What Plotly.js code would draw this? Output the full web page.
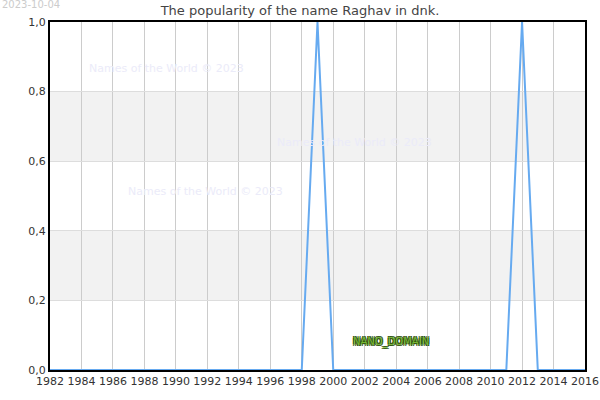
<!DOCTYPE html>
<html>
<head>
<meta charset="utf-8">
<script src="https://cdn.plot.ly/plotly-3.0.1.min.js"></script>
<style>
  body { margin: 0; }
  #chart { width: 600px; height: 400px; }
</style>
</head>
<body>
<div id="chart"></div>
<script>
// years and popularity values
const years = [];
for (let y = 1982; y <= 2016; y++) years.push(y);
const popularity = [
  0, 0, 0, 0, 0, 0, 0, 0, 0, 0,   // 1982-1991
  0, 0, 0, 0, 0, 0, 0, 1, 0, 0,   // 1992-2001
  0, 0, 0, 0, 0, 0, 0, 0, 0, 0,   // 2002-2011
  1, 0, 0, 0, 0                   // 2012-2016
];
const xTicks = [1982, 1984, 1986, 1988, 1990, 1992, 1994, 1996, 1998, 2000, 2002, 2004, 2006, 2008, 2010, 2012, 2014, 2016];
const yTicks = [0, 0.2, 0.4, 0.6, 0.8, 1.0];
const bands = [[0.2, 0.4], [0.6, 0.8]];

const trace = {
    x: years,
    y: popularity,
    mode: 'lines',
    type: 'scatter',
    line: { color: '#66aaf0', width: 2 },
    hoverinfo: 'skip'
};

const wm = { family: 'DejaVu Sans', size: 11, color: '#ebebf9' };
function mark(text, x, y, font) {
    return { text: text, xref: 'paper', yref: 'paper', x: x, y: y,
             xanchor: 'center', yanchor: 'middle', showarrow: false, font: font };
}

const layout = {
    width: 600,
    height: 400,
    separators: ',.',
    margin: { l: 50, r: 15, t: 22, b: 30 },
    paper_bgcolor: '#ffffff',
    plot_bgcolor: '#ffffff',
    font: { family: 'DejaVu Sans', size: 11, color: '#333333' },
    showlegend: false,
    title: {
        text: 'The popularity of the name Raghav in dnk.',
        font: { family: 'DejaVu Sans', size: 13, color: '#444444' },
        x: 0.5, xanchor: 'center', y: 0.975, yanchor: 'middle'
    },
    xaxis: {
        range: [1982, 2016],
        tickvals: xTicks,
        ticktext: xTicks.map(String),
        showgrid: true, gridcolor: '#cccccc', gridwidth: 1,
        showline: true, linecolor: '#000000', linewidth: 2, mirror: true,
        zeroline: false, ticks: '', ticklen: 0
    },
    yaxis: {
        range: [0, 1],
        tickvals: yTicks,
        tickformat: '.1f',
        showgrid: true, gridcolor: '#dddddd', gridwidth: 1,
        showline: true, linecolor: '#000000', linewidth: 2, mirror: true,
        zeroline: false, ticks: ''
    },
    shapes: bands.map(b => ({
        type: 'rect', xref: 'paper', yref: 'y', x0: 0, x1: 1, y0: b[0], y1: b[1],
        fillcolor: '#f2f2f2', line: { width: 0 }, layer: 'below'
    })),
    annotations: [
        { text: '2023-10-04', xref: 'paper', yref: 'paper', x: -0.0935, y: 1.05, xanchor: 'left', yanchor: 'middle',
          showarrow: false, font: { family: 'DejaVu Sans', size: 10, color: '#cccccc' } },
        mark('Names of the World © 2023', 0.218, 0.865, wm),
        mark('Names of the World © 2023', 0.57, 0.653, wm),
        mark('Names of the World © 2023', 0.29, 0.514, wm),
        mark('NANO_DOMAIN', 0.637, 0.08,
             { family: 'DejaVu Sans', size: 10, color: '#77bb33',
               shadow: '1px 1px 0 #335511, -1px -1px 0 #335511, 1px -1px 0 #335511, -1px 1px 0 #335511' })
    ]
};

Plotly.newPlot('chart', [trace], layout, { staticPlot: true, displayModeBar: false });
</script>
</body>
</html>
